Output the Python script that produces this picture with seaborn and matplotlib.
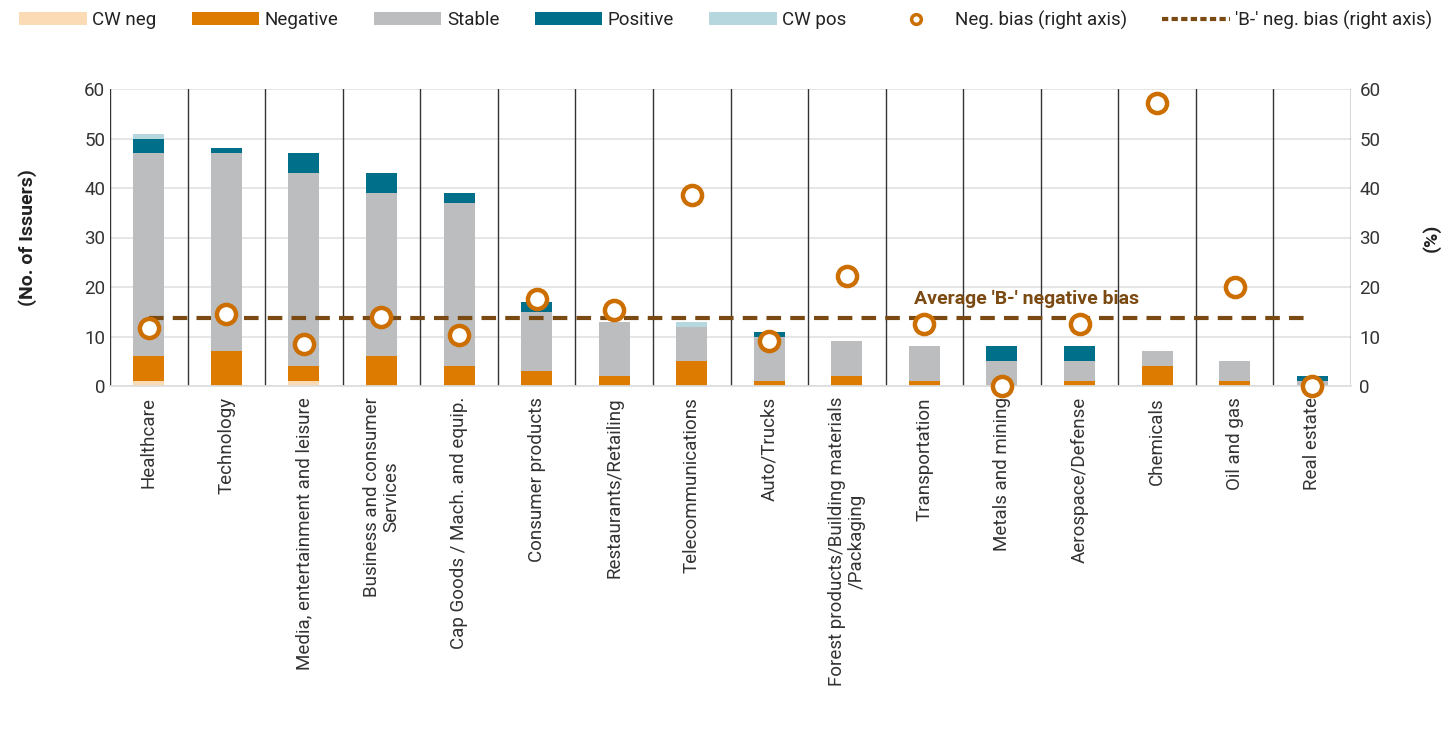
import numpy as np
import pandas as pd
import matplotlib
matplotlib.use("Agg")
import matplotlib.pyplot as plt
import seaborn as sns
from matplotlib.patches import Patch
from matplotlib.lines import Line2D

sectors = [
    "Healthcare", "Technology", "Media, entertainment and leisure",
    "Business and consumer\nServices", "Cap Goods / Mach. and equip.",
    "Consumer products", "Restaurants/Retailing", "Telecommunications",
    "Auto/Trucks", "Forest products/Building materials\n/Packaging",
    "Transportation", "Metals and mining", "Aerospace/Defense",
    "Chemicals", "Oil and gas", "Real estate",
]
cw_neg   = [1, 0, 1, 0, 0, 0, 0, 0, 0, 0, 0, 0, 0, 0, 0, 0]
negative = [5, 7, 3, 6, 4, 3, 2, 5, 1, 2, 1, 0, 1, 4, 1, 0]
stable   = [41, 40, 39, 33, 33, 12, 11, 7, 9, 7, 7, 5, 4, 3, 4, 1]
positive = [3, 1, 4, 4, 2, 2, 0, 0, 1, 0, 0, 3, 3, 0, 0, 1]
cw_pos   = [1, 0, 0, 0, 0, 0, 0, 1, 0, 0, 0, 0, 0, 0, 0, 0]
neg_bias = [11.8, 14.6, 8.5, 14.0, 10.3, 17.6, 15.4, 38.5, 9.1, 22.2,
            12.5, 0.0, 12.5, 57.1, 20.0, 0.0]
avg_bias = 13.8

c_cwneg, c_neg, c_stable, c_pos, c_cwpos = "#FBDAB6", "#DD7A00", "#BCBDBE", "#006F8A", "#B7D7DF"
c_marker, c_avg = "#CC6E00", "#7A4A12"

sns.set_theme(style="white")
plt.rcParams["font.family"] = ["Roboto", "DejaVu Sans"]

fig = plt.figure(figsize=(14.43, 7.40), dpi=100)
ax = fig.add_axes([110 / 1443, 1 - 386 / 740, (1351 - 110) / 1443, (386 - 89) / 740])

layers = [cw_neg, negative, stable, positive, cw_pos]
colors = [c_cwneg, c_neg, c_stable, c_pos, c_cwpos]
cum = np.cumsum(np.array(layers), axis=0)
# draw cumulative totals from the top layer down so each segment shows its own slice
for i in range(len(layers) - 1, -1, -1):
    df = pd.DataFrame({"sector": sectors, "value": cum[i]})
    sns.barplot(data=df, x="sector", y="value", color=colors[i], width=0.4,
                saturation=1, ax=ax, edgecolor="none", linewidth=0, zorder=2)

ax.set_xlim(-0.5, len(sectors) - 0.5)
ax.set_ylim(0, 60)
ax.set_yticks(range(0, 61, 10))
ax.yaxis.grid(True, color="#E2E2E2", linewidth=1.2, zorder=0)
ax.set_axisbelow(True)
for k in range(len(sectors) + 1):
    ax.axvline(k - 0.5, color="#333333", linewidth=1.0, zorder=1)
for s in ["left", "right", "top"]:
    ax.spines[s].set_visible(False)
ax.spines["bottom"].set_color("#DDDDDD")
ax.tick_params(axis="both", length=0, labelsize=13.5, labelcolor="#333333")
ax.tick_params(axis="x", pad=8)
ax.set_xticks(range(len(sectors)))
ax.set_xticklabels(sectors, rotation=90, va="top", ha="center", linespacing=1.1)
ax.set_xlabel("")
ax.set_ylabel("(No. of Issuers)", fontsize=14, fontweight="bold", color="#222222", labelpad=34)

ax2 = ax.twinx()
ax2.set_ylim(0, 60)
ax2.set_yticks(range(0, 61, 10))
ax2.tick_params(axis="y", length=0, labelsize=13.5, labelcolor="#333333", pad=6)
for s in ax2.spines.values():
    s.set_visible(False)
bias_df = pd.DataFrame({"x": np.arange(len(sectors)), "bias": neg_bias})
sns.scatterplot(data=bias_df, x="x", y="bias", ax=ax2, marker="o", s=190,
                facecolor="white", edgecolor=c_marker, linewidth=3.2, zorder=5, clip_on=False)
ax2.hlines(avg_bias, 0, len(sectors) - 1, colors=c_avg, linestyles=(0, (3.5, 2.2)),
           linewidth=3, zorder=4)
ax2.text(9.87, 17.6, "Average 'B-' negative bias", color=c_avg, fontsize=14,
         fontweight="bold", ha="left", va="center", zorder=6)
ax2.set_ylabel("(%)", fontsize=14, fontweight="bold", color="#222222", labelpad=30)
ax2.set_xlabel("")

handles = [Patch(facecolor=c, edgecolor="none") for c in colors]
handles += [Line2D([], [], marker="o", linestyle="none", markersize=7, markerfacecolor="white",
                   markeredgecolor=c_marker, markeredgewidth=2.5),
            Line2D([], [], color=c_avg, linestyle=(0, (1.5, 0.8)), linewidth=3)]
labels = ["CW neg", "Negative", "Stable", "Positive", "CW pos",
          "Neg. bias (right axis)", "'B-' neg. bias (right axis)"]
fig.legend(handles, labels, loc="lower left", bbox_to_anchor=(0.008, 0.95, 0.99, 0.05),
           mode="expand", ncol=7, frameon=False, fontsize=13.5, handlelength=3.6,
           handleheight=0.7, handletextpad=0.3, columnspacing=0.6,
           borderaxespad=0, labelcolor="#222222")

fig.savefig("out.png", dpi=100)
